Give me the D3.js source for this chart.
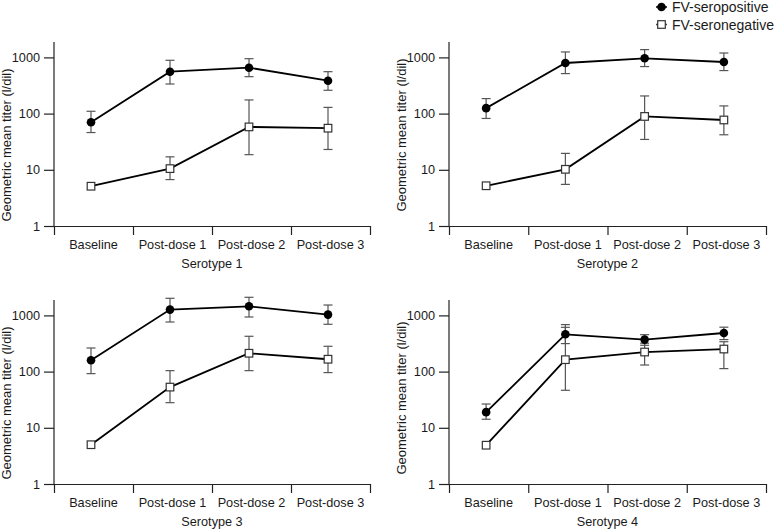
<!DOCTYPE html>
<html>
<head>
<meta charset="utf-8">
<script src="https://cdn.jsdelivr.net/npm/d3@7"></script>
<style>
  html, body { margin: 0; padding: 0; background: #fff; }
  svg { display: block; }
  text { font-family: "Liberation Sans", Arial, Helvetica, sans-serif; fill: #1a1a1a; }
</style>
</head>
<body>
<svg id="chart" width="777" height="529"></svg>
<script>
// ---- data ----
const categories = ["Baseline", "Post-dose 1", "Post-dose 2", "Post-dose 3"];
const serotypes = ["Serotype 1", "Serotype 2", "Serotype 3", "Serotype 4"];
const yTickValues = [1, 10, 100, 1000];
const seriesNames = ["FV-seropositive", "FV-seronegative"];

const seroposGMT = [[70, 557, 656, 385], [125, 795, 964, 828], [159, 1268, 1452, 1033], [19, 461, 371, 486]];
const seroposLo  = [[46, 336, 454, 260], [82, 515, 687, 583], [92, 763, 937, 695], [14.2, 315, 294, 371]];
const seroposHi  = [[110, 888, 948, 557], [185, 1250, 1375, 1197], [263, 2015, 2100, 1530], [26.5, 686, 454, 617]];

const seronegGMT = [[5.1, 10.5, 58, 55], [5.2, 10.2, 89, 77], [5, 53, 212, 166], [4.9, 163, 223, 252]];
const seronegLo  = [[null, 6.7, 18.6, 23], [null, 5.5, 34.7, 42], [null, 28, 104, 96], [null, 46.5, 131, 113]];
const seronegHi  = [[null, 17, 175, 129], [null, 19.6, 206, 137], [null, 104, 425, 282], [null, 614, 320, 340]];

// ---- layout ----
const svg = d3.select("#chart");
const panels = [
  { x0: 54, x1: 370, bottom: 226, labelOff: 81 },
  { x0: 449, x1: 766, bottom: 226, labelOff: 91 },
  { x0: 54, x1: 370, bottom: 484, labelOff: 81 },
  { x0: 449, x1: 766, bottom: 484, labelOff: 86 }
];
const decade = 56.2;
const axisHeight = 184;
const ptOffset = -2.5;
const fs = 12.7;

panels.forEach((p, k) => {
  const g = svg.append("g");
  const x = d3.scaleLinear().domain([0, categories.length]).range([p.x0, p.x1]);
  const y = d3.scaleLog().domain([1, 1000]).range([p.bottom, p.bottom - 3 * decade]);
  const cx = i => x(i + 0.5) + ptOffset;

  // y axis
  const yAxis = g.append("g").attr("transform", `translate(${p.x0},0)`)
    .call(d3.axisLeft(y).tickValues(yTickValues).tickFormat(d3.format("d")).tickSize(10).tickPadding(4).tickSizeOuter(0));
  yAxis.select(".domain").remove();
  yAxis.append("line").attr("x1", 0).attr("x2", 0)
    .attr("y1", p.bottom).attr("y2", p.bottom - axisHeight)
    .attr("stroke", "#222").attr("stroke-width", 1.2);
  yAxis.selectAll(".tick line").attr("stroke", "#222").attr("stroke-width", 1.2);
  yAxis.selectAll(".tick text").attr("font-size", fs).attr("fill", "#1a1a1a")
    .style("font-family", "'Liberation Sans', Arial, sans-serif");

  // x axis
  const xAxis = g.append("g").attr("transform", `translate(0,${p.bottom})`)
    .call(d3.axisBottom(x).tickValues(d3.range(categories.length + 1)).tickFormat("").tickSize(9).tickSizeOuter(0));
  xAxis.select(".domain").attr("stroke", "#222").attr("stroke-width", 1.2);
  xAxis.selectAll(".tick line").attr("stroke", "#222").attr("stroke-width", 1.2);

  // category labels
  g.selectAll(".cat").data(categories).enter().append("text")
    .attr("x", (d, i) => x(i + 0.5)).attr("y", p.bottom + 23)
    .attr("text-anchor", "middle").attr("font-size", fs).text(d => d);

  // panel title
  g.append("text").attr("x", (p.x0 + p.x1) / 2).attr("y", p.bottom + 42)
    .attr("text-anchor", "middle").attr("font-size", fs).text(serotypes[k]);

  // y label
  g.append("text")
    .attr("transform", `translate(${p.x0 - 43},${p.bottom - p.labelOff}) rotate(-90)`)
    .attr("text-anchor", "middle").attr("font-size", 13)
    .text("Geometric mean titer (l/dil)");

  const series = [
    { gmt: seroposGMT[k], lo: seroposLo[k], hi: seroposHi[k], type: "circle" },
    { gmt: seronegGMT[k], lo: seronegLo[k], hi: seronegHi[k], type: "square" }
  ];

  // error bars
  series.forEach(s => {
    s.gmt.forEach((v, i) => {
      if (s.lo[i] == null) return;
      const eg = g.append("g").attr("stroke", "#555").attr("stroke-width", 1.2);
      eg.append("line").attr("x1", cx(i)).attr("x2", cx(i)).attr("y1", y(s.lo[i])).attr("y2", y(s.hi[i]));
      [s.lo[i], s.hi[i]].forEach(e => {
        eg.append("line").attr("x1", cx(i) - 4.5).attr("x2", cx(i) + 4.5).attr("y1", y(e)).attr("y2", y(e));
      });
    });
  });

  // lines
  const line = d3.line().x((d, i) => cx(i)).y(d => y(d));
  series.forEach(s => {
    g.append("path").attr("d", line(s.gmt)).attr("fill", "none")
      .attr("stroke", "#000").attr("stroke-width", 1.8);
  });

  // markers
  series.forEach(s => {
    if (s.type === "circle") {
      g.selectAll(null).data(s.gmt).enter().append("circle")
        .attr("cx", (d, i) => cx(i)).attr("cy", d => y(d)).attr("r", 4.3).attr("fill", "#000");
    } else {
      g.selectAll(null).data(s.gmt).enter().append("rect")
        .attr("x", (d, i) => cx(i) - 3.8).attr("y", d => y(d) - 3.8)
        .attr("width", 7.6).attr("height", 7.6)
        .attr("fill", "#fff").attr("stroke", "#333").attr("stroke-width", 1.2);
    }
  });
});

// legend
const lg = svg.append("g");
seriesNames.forEach((name, i) => {
  const yy = 7 + i * 17.5;
  lg.append("line").attr("x1", 656).attr("x2", 667).attr("y1", yy).attr("y2", yy)
    .attr("stroke", i === 0 ? "#000" : "#444").attr("stroke-width", 1.5);
  if (i === 0) {
    lg.append("circle").attr("cx", 661.5).attr("cy", yy).attr("r", 4.3).attr("fill", "#000");
  } else {
    lg.append("rect").attr("x", 661.5 - 3.8).attr("y", yy - 3.8).attr("width", 7.6).attr("height", 7.6)
      .attr("fill", "#fff").attr("stroke", "#333").attr("stroke-width", 1.2);
  }
  lg.append("text").attr("x", 672).attr("y", yy + 5).attr("font-size", 14).text(name);
});
</script>
</body>
</html>
